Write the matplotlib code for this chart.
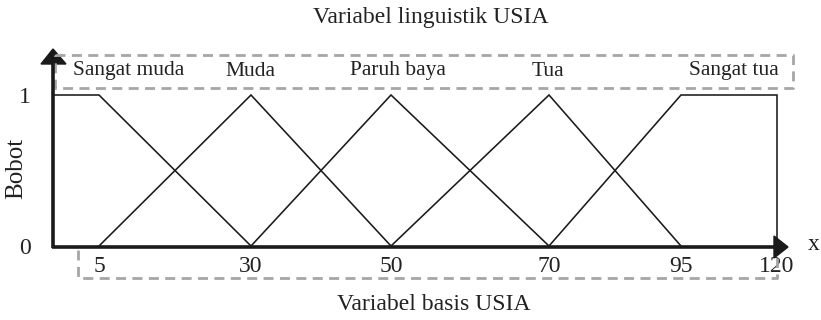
import numpy as np
import matplotlib
matplotlib.use("Agg")
import matplotlib.pyplot as plt
from matplotlib.transforms import Affine2D
from matplotlib.patches import Polygon
from matplotlib.lines import Line2D

plt.rcParams['font.family'] = ['Liberation Serif', 'DejaVu Serif']

# data: membership functions of USIA (breakpoints in years, weights)
tick_values = [5, 30, 50, 70, 95, 120]
sangat_muda_x = [0, 5, 30]
sangat_muda_y = [1, 1, 0]
muda_x = [5, 30, 50]
muda_y = [0, 1, 0]
paruh_baya_x = [30, 50, 70]
paruh_baya_y = [0, 1, 0]
tua_x = [50, 70, 95]
tua_y = [0, 1, 0]
sangat_tua_x = [70, 95, 120, 120]
sangat_tua_y = [0, 1, 1, 0]
set_names = ["Sangat muda", "Muda", "Paruh baya", "Tua", "Sangat tua"]

# layout: the drawing is not to scale, so ticks sit at these pixel columns
W, H = 821, 320
scale_vals = [0, 5, 30, 50, 70, 95, 120]
scale_px = [53, 99, 251, 391, 549, 681, 777]
name_px = [129, 250, 398, 548, 734]

fig = plt.figure(figsize=(W / 100, H / 100), dpi=100)
px = Affine2D().scale(1 / W, -1 / H).translate(0, 1) + fig.transFigure

x0, x1 = scale_px[0], scale_px[-1]
y0, y1 = 246, 95
ax = fig.add_axes([x0 / W, 1 - y0 / H, (x1 - x0) / W, (y0 - y1) / H])
ax.set_xscale('function', functions=(
    lambda v: np.interp(v, scale_vals, scale_px),
    lambda p: np.interp(p, scale_px, scale_vals)))
ax.set_xlim(0, 120)
ax.set_ylim(0, 1)
for s in ax.spines.values():
    s.set_visible(False)
ax.patch.set_alpha(0)

lw = 1.15
for xs, ys in [(sangat_muda_x, sangat_muda_y), (muda_x, muda_y),
               (paruh_baya_x, paruh_baya_y), (tua_x, tua_y),
               (sangat_tua_x, sangat_tua_y)]:
    ax.plot(xs, ys, color='#1a1a1a', lw=lw, clip_on=False,
            solid_joinstyle='miter')

ax.set_xticks(tick_values)
ax.set_xticklabels([str(v) for v in tick_values])
ax.set_yticks([0, 1])
ax.set_yticklabels(['0', '1'])
ax.tick_params(length=0, labelsize=17, colors='#222222')
ax.tick_params(axis='x', pad=7)
ax.tick_params(axis='y', pad=16)

# dashed boxes
dash = dict(color='#a6a6a6', lw=2.0, ls=(0, (3.6, 2.3)), transform=px)
fig.add_artist(Line2D([55, 793, 793, 55, 55], [55, 55, 88, 88, 55], **dash))
fig.add_artist(Line2D([78, 78, 777, 777], [250, 278, 278, 258], **dash))

# axes with arrow heads
axis = dict(color='#1a1a1a', lw=2.6, transform=px, solid_capstyle='butt')
fig.add_artist(Line2D([52, 776], [247, 247], **axis))
fig.add_artist(Line2D([53, 53], [248, 62], **axis))
fig.add_artist(Polygon([[788, 247], [774, 236], [774, 258]], closed=True,
                       color='#1a1a1a', transform=px))
fig.add_artist(Polygon([[53, 49], [41, 64], [66, 64]], closed=True,
                       color='#1a1a1a', transform=px))

txt = dict(transform=px, color='#222222', ha='center', va='center')
for name, xp in zip(set_names, name_px):
    fig.text(xp, 71, name, fontsize=15.5, **txt)
fig.text(431, 17, "Variabel linguistik USIA", fontsize=17, **txt)
fig.text(434, 305, "Variabel basis USIA", fontsize=17, **txt)
fig.text(16, 168, "Bobot", rotation=90, fontsize=18, **txt)
fig.text(814, 244, "x", fontsize=17, **txt)

fig.savefig("out.png", dpi=100)
